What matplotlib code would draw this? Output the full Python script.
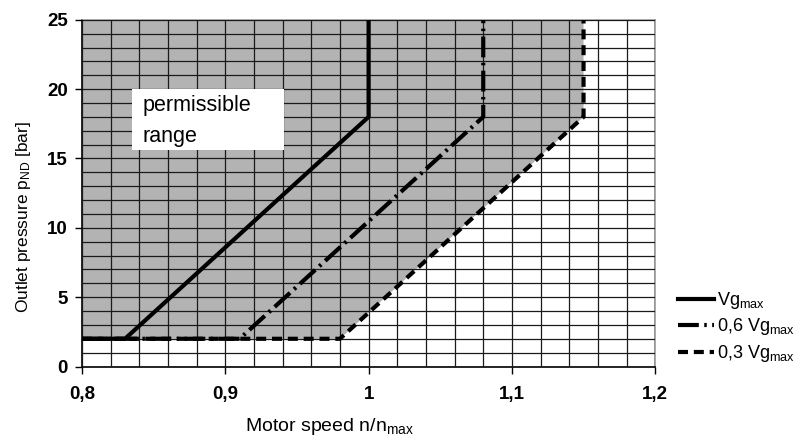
import matplotlib.pyplot as plt
from matplotlib.patches import Rectangle
from matplotlib.lines import Line2D

plt.rcParams["font.family"] = ["Liberation Sans", "DejaVu Sans"]
plt.rcParams["mathtext.default"] = "regular"

# curve data (motor speed n/n_max, outlet pressure bar)
x_full = [0.80, 0.83, 1.00, 1.00]
y_full = [2, 2, 18, 25]
x_06 = [0.80, 0.91, 1.08, 1.08]
y_06 = [2, 2, 18, 25]
x_03 = [0.80, 0.98, 1.15, 1.15]
y_03 = [2, 2, 18, 25]

labels = ["Vg$_{max}$", "0,6 Vg$_{max}$", "0,3 Vg$_{max}$"]
x_ticks = [0.8, 0.9, 1.0, 1.1, 1.2]
x_ticklabels = ["0,8", "0,9", "1", "1,1", "1,2"]
y_ticks = [0, 5, 10, 15, 20, 25]

fig = plt.figure(figsize=(8, 4.4), dpi=100)
ax = fig.add_axes([0.1025, 0.167, 0.7165, 0.788])

# permissible range: left of the 0,3 Vg_max curve
ax.fill(x_03 + [x_03[0]], y_03 + [y_03[-1]], color="#b3b3b3", lw=0, zorder=0)

ax.set_xlim(0.8, 1.2)
ax.set_ylim(0, 25)
ax.set_xticks(x_ticks)
ax.set_xticklabels(x_ticklabels)
ax.set_yticks(y_ticks)
ax.set_xticks([0.8 + 0.02 * i for i in range(21)], minor=True)
ax.set_yticks(range(26), minor=True)
ax.grid(which="both", color="#1a1a1a", lw=0.9, zorder=1)
ax.set_axisbelow(False)
ax.tick_params(which="minor", length=0)
ax.tick_params(which="major", length=5, width=1, color="black", direction="out")
ax.tick_params(axis="x", pad=9)
ax.tick_params(axis="y", pad=5)
for lab in ax.get_xticklabels() + ax.get_yticklabels():
    lab.set_fontweight("bold")
    lab.set_fontsize(13.5)
for side, s in ax.spines.items():
    s.set_color("black" if side in ("left", "bottom") else "#999999")
    s.set_linewidth(1.2)

lw = 3
dash_06 = (0, (5, 1.3, 0.6, 1.3))
dash_03 = (0, (2.4, 1.4))
ax.plot(x_full, y_full, color="black", lw=lw, solid_capstyle="butt", zorder=3)
ax.plot(x_06, y_06, color="black", lw=lw, linestyle=dash_06, dash_capstyle="butt", zorder=3)
ax.plot(x_03, y_03, color="black", lw=lw, linestyle=dash_03, dash_capstyle="butt", zorder=3)

ax.add_patch(Rectangle((0.835, 15.6), 0.106, 4.4, facecolor="white", edgecolor="none", zorder=4))
ax.text(0.8425, 17.7, "permissible\nrange", fontsize=15.5, va="center", ha="left",
        linespacing=1.6, zorder=5)

ax.set_xlabel("Motor speed n/n$_{max}$", fontsize=14)
ax.xaxis.set_label_coords(0.431, -0.143)
ax.set_ylabel("Outlet pressure p$_{ND}$ [bar]", fontsize=12.5)
ax.yaxis.set_label_coords(-0.085, 0.43)

handles = [
    Line2D([], [], color="black", lw=lw),
    Line2D([], [], color="black", lw=lw, linestyle=dash_06),
    Line2D([], [], color="black", lw=lw, linestyle=dash_03),
]
fig.legend(handles, labels, loc="center left", bbox_to_anchor=(0.847, 0.257),
           frameon=False, fontsize=13, handlelength=2.0, handletextpad=0.2,
           labelspacing=0.3, borderaxespad=0, borderpad=0)

fig.savefig("out.png", dpi=100)
